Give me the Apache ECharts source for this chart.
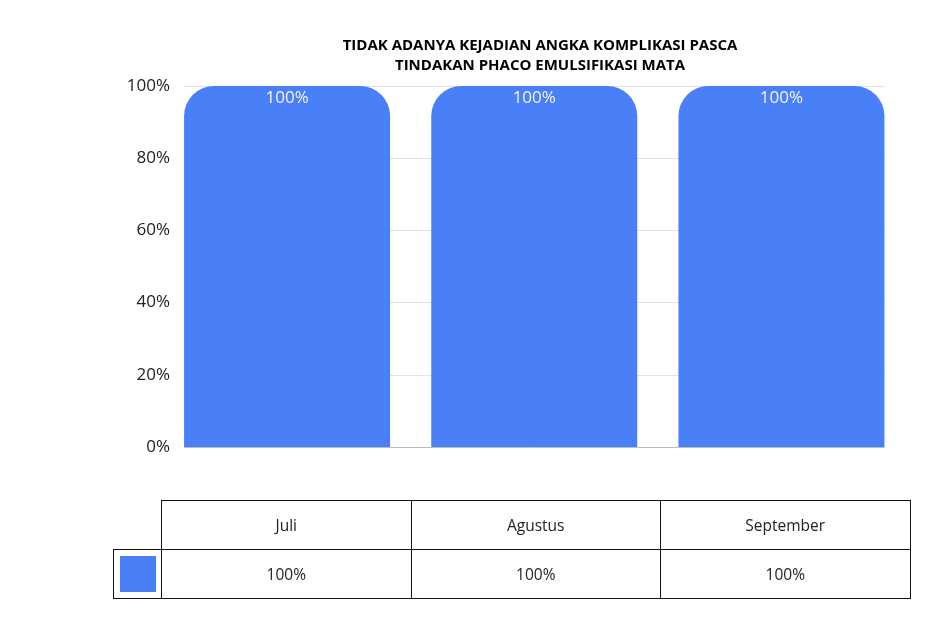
<!DOCTYPE html>
<html>
<head>
<meta charset="utf-8">
<script src="https://cdn.jsdelivr.net/npm/echarts@6/dist/echarts.min.js"></script>
<style>
  html, body { margin: 0; padding: 0; background: #fff; }
  #chart { position: absolute; left: 0; top: 0; width: 943px; height: 626px; }
  #tbl { position: absolute; left: 113px; top: 500px; border-collapse: collapse;
         font-family: "Open Sans", sans-serif; font-size: 15.5px; color: #222; }
  #tbl td { border: 1px solid #111; height: 49px; padding: 0; text-align: center; width: 249.5px; box-sizing: border-box; }
  #tbl td.leg { width: 48px; }
  #tbl td.empty { border: none; border-right: 1px solid #111; border-bottom: 1px solid #111; }
  .sw { display: inline-block; width: 36px; height: 36px; background: #4a80f7; vertical-align: middle; }
</style>
</head>
<body>
<div id="chart"></div>
<table id="tbl"></table>
<script>
const titleLines = ["TIDAK ADANYA KEJADIAN ANGKA KOMPLIKASI PASCA", "TINDAKAN PHACO EMULSIFIKASI MATA"];
const categories = ["Juli", "Agustus", "September"];
const values = [100, 100, 100];
const yTicks = [0, 20, 40, 60, 80, 100];

const barColor = "#4a80f7";
const font = "Open Sans";

const chart = echarts.init(document.getElementById('chart'), null, { renderer: 'canvas' });
chart.setOption({
  animation: false,
  backgroundColor: '#fff',
  title: {
    text: titleLines.join('\n'),
    left: 535, textAlign: 'center', top: 31,
    textStyle: { fontFamily: font, fontWeight: 'bold', fontSize: 15, lineHeight: 20, color: '#000' }
  },
  grid: { left: 184, right: 943 - 885, top: 86, bottom: 626 - 447 },
  xAxis: {
    type: 'value', min: -0.417, max: 2.419,
    show: false, splitLine: { show: false }
  },
  yAxis: {
    type: 'value', min: yTicks[0], max: yTicks[yTicks.length - 1], interval: 20,
    axisLine: { show: false }, axisTick: { show: false },
    axisLabel: { formatter: '{value}%', fontFamily: font, fontSize: 17, color: '#222', margin: 14 },
    splitLine: { lineStyle: { color: '#e2e2e2', width: 1 } }
  },
  series: [
    {
      type: 'bar',
      barWidth: 206,
      data: values.map((v, i) => [i, v]),
      itemStyle: { color: barColor, borderRadius: [30, 30, 0, 0] },
      label: {
        show: true, position: 'insideTop', distance: 4,
        formatter: p => p.value[1] + '%',
        color: '#f4f4f4', fontFamily: font, fontSize: 17
      },
      markLine: {
        silent: true, symbol: 'none', label: { show: false },
        lineStyle: { color: '#bdbdbd', type: 'solid', width: 1 },
        data: [{ yAxis: 0 }]
      }
    }
  ]
});

// data table below the chart
const tbl = document.getElementById('tbl');
let r1 = '<tr><td class="leg empty"></td>' + categories.map(c => '<td>' + c + '</td>').join('') + '</tr>';
let r2 = '<tr><td class="leg"><span class="sw"></span></td>' + values.map(v => '<td>' + v + '%</td>').join('') + '</tr>';
tbl.innerHTML = r1 + r2;
</script>
</body>
</html>
